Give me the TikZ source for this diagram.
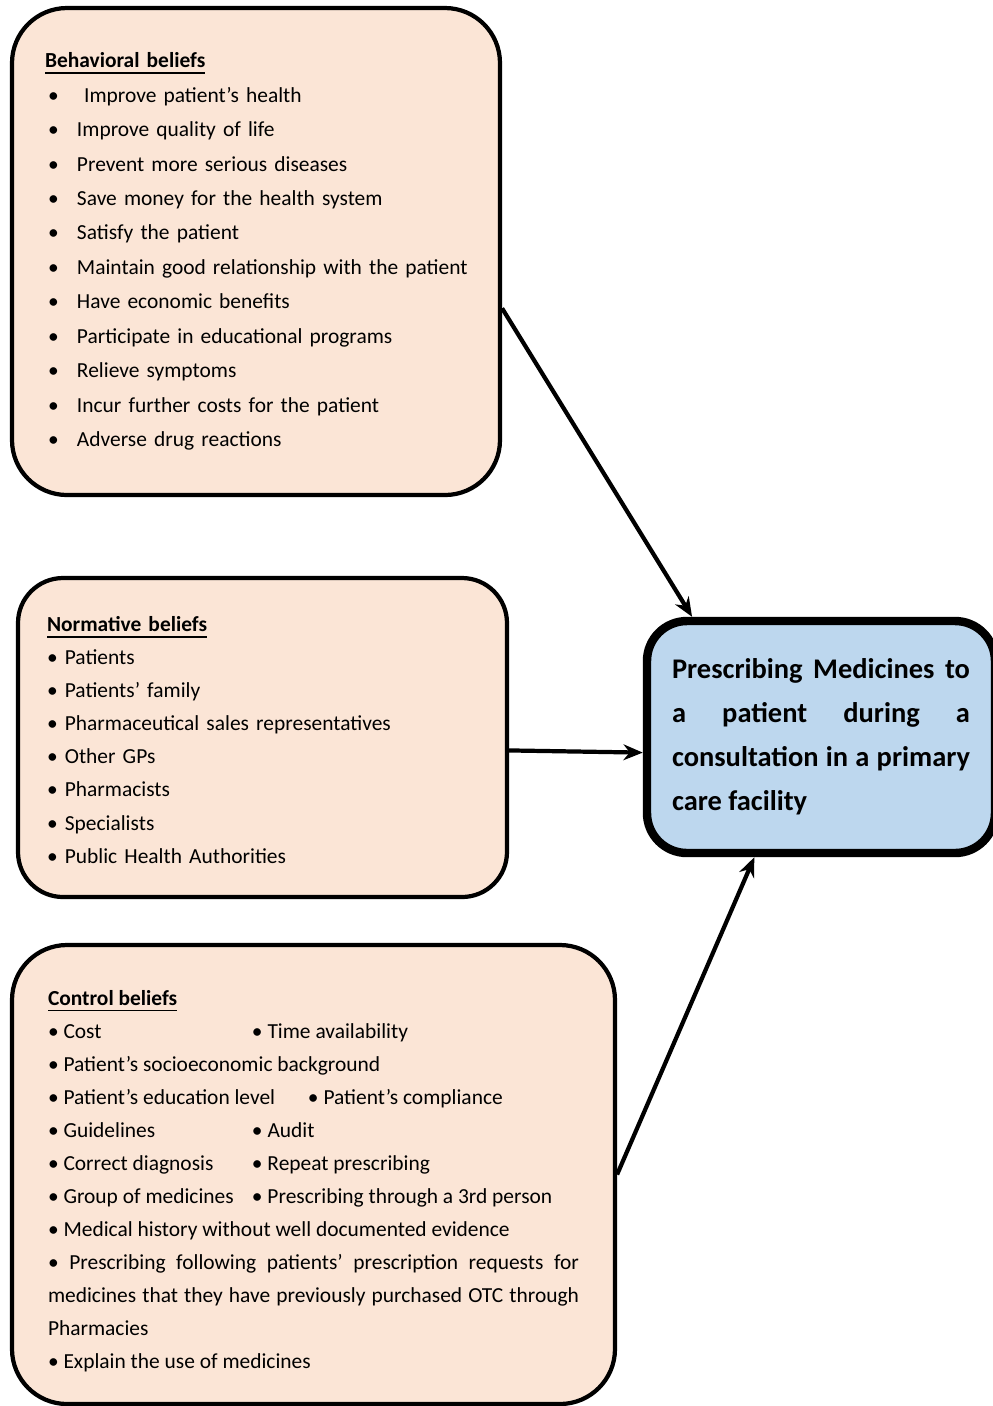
\documentclass[tikz,border=0pt]{standalone}
\usepackage{fontspec}
\setmainfont{Carlito}
\usetikzlibrary{arrows,arrows.meta,positioning}
\definecolor{peach}{HTML}{FBE5D6}
\definecolor{paleblue}{HTML}{BDD7EE}
\tikzstyle{belief} = [draw, line width=1.2pt, fill=peach, rounded corners=0.55cm, align=left]
\tikzstyle{goal} = [draw, line width=2.4pt, fill=paleblue, rounded corners=0.4cm, align=justify, font=\bfseries\fontsize{8.1}{12.5}\selectfont]
\tikzstyle{arrow} = [line width=1.2pt,->,>={Stealth[length=5.5pt,width=4.5pt]}]
\newcommand{\bitem}[1]{\hspace*{0.03cm}\makebox[0.29cm][l]{•}#1}
\newcommand{\tcol}[2][2.04cm]{\makebox[#1][l]{#2}}

\begin{document}
\begin{tikzpicture}[x=0.1mm, y=-0.1mm]
    \useasboundingbox (0,0) rectangle (993,1406);
    % behavioral beliefs
    \node[belief, minimum width=4.88cm, minimum height=4.87cm, text width=4.22cm, inner xsep=0.33cm,
        font=\fontsize{6.1}{9.8}\selectfont] (behav) at (256,251.5) {
        \underline{\textbf{Behavioral beliefs}}\\
        \bitem{\ Improve patient’s health}\\
        \bitem{Improve quality of life}\\
        \bitem{Prevent more serious diseases}\\
        \bitem{Save money for the health system}\\
        \bitem{Satisfy the patient}\\
        \bitem{\mbox{Maintain good relationship with the patient}}\\
        \bitem{Have economic benefits}\\
        \bitem{Participate in educational programs}\\
        \bitem{Relieve symptoms}\\
        \bitem{Incur further costs for the patient}\\
        \bitem{Adverse drug reactions}};
    % normative beliefs
    \node[belief, rounded corners=0.45cm, minimum width=4.89cm, minimum height=3.19cm, text width=4.31cm, inner xsep=0.29cm,
        font=\fontsize{6.1}{9.4}\selectfont] (norm) at (262.5,737.5) {
        \rule{0pt}{0.2cm}\underline{\textbf{Normative beliefs}}\\
        • Patients\\
        • Patients’ family\\
        • Pharmaceutical sales representatives\\
        • Other GPs\\
        • Pharmacists\\
        • Specialists\\
        • Public Health Authorities};
    % control beliefs
    \node[belief, align=justify, minimum width=6.03cm, minimum height=4.59cm, text width=5.31cm, inner xsep=0.36cm,
        font=\fontsize{6.1}{9.4}\selectfont] (ctrl) at (313.5,1174.5) {
        \rule{0pt}{0.29cm}\underline{\textbf{Control beliefs}}\\
        \tcol{• Cost}• Time availability\\
        • Patient’s socioeconomic background\\
        \tcol[2.6cm]{• Patient’s education level}• Patient’s compliance\\
        \tcol{• Guidelines}• Audit\\
        \tcol{• Correct diagnosis}• Repeat prescribing\\
        \tcol{• Group of medicines}• Prescribing through a 3rd person\\
        • Medical history without well documented evidence\\
        • Prescribing following patients’ prescription requests for\linebreak
        medicines that they have previously purchased OTC through\linebreak
        Pharmacies\\
        • Explain the use of medicines};
    % outcome
    \node[goal, minimum width=3.48cm, minimum height=2.32cm, text width=2.98cm, inner xsep=0.25cm] (presc) at (821,737) {
        Prescribing Medicines to\linebreak
        a patient during a\linebreak
        consultation in a primary\linebreak
        care facility};
    \draw[arrow] (behav.-13.5) -- (presc.137.4);
    \draw[arrow] (norm.-3) -- (presc.185);
    \draw[arrow] (ctrl.east) -- (presc.241.1);
\end{tikzpicture}
\end{document}
